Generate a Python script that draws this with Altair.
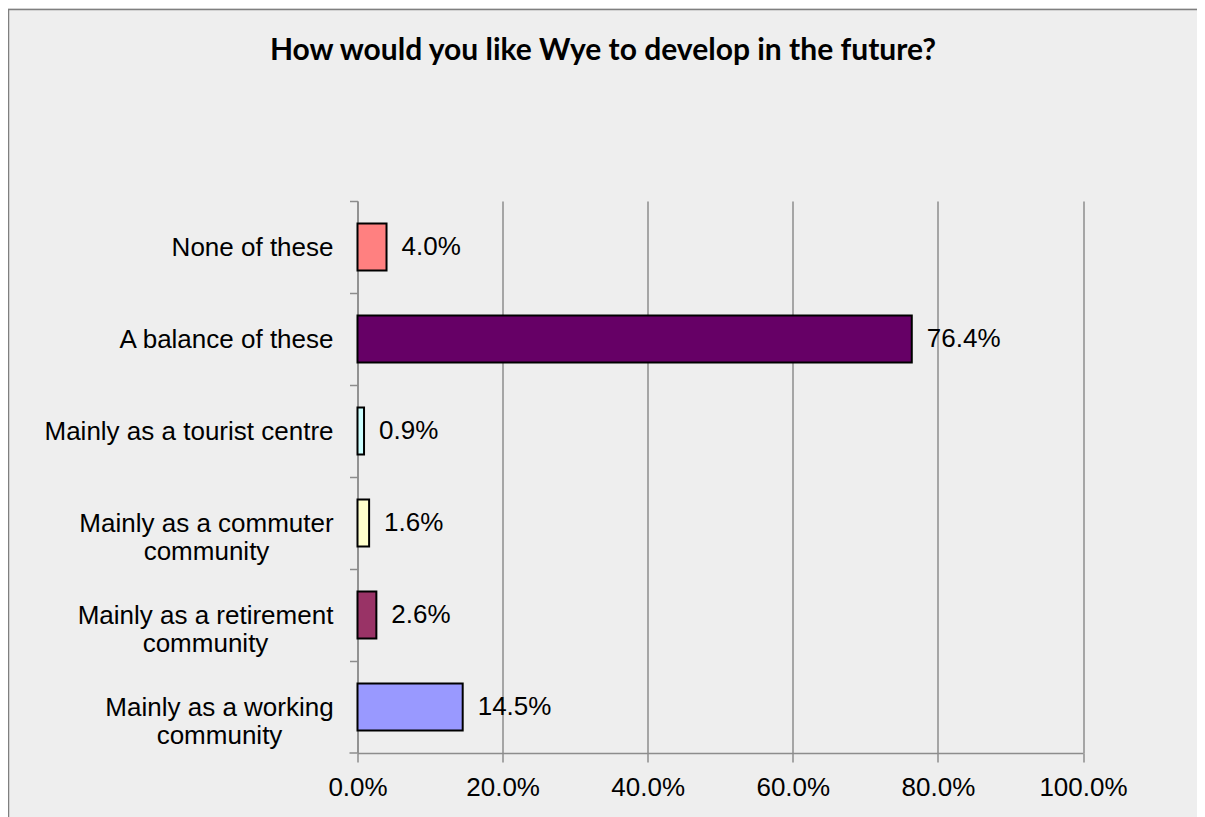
import altair as alt
import pandas as pd

categories = [
    "None of these",
    "A balance of these",
    "Mainly as a tourist centre",
    "Mainly as a commuter|community",
    "Mainly as a retirement|community",
    "Mainly as a working|community",
]
values = [0.040, 0.764, 0.009, 0.016, 0.026, 0.145]
colors = ["#FF8080", "#660066", "#CCFFFF", "#FFFFCC", "#993366", "#9999FF"]
x_ticks = [0.0, 0.2, 0.4, 0.6, 0.8, 1.0]
title_text = "How would you like Wye to develop in the future?"

df = pd.DataFrame({"cat": categories, "val": values})

FONT = "Liberation Sans"
W, H = 725.5, 552
PL, PT = 349.5, 193
PR = 1189 - PL - W
PB = 809 - PT - H
STEP = H / len(categories)

ysc = alt.Scale(domain=categories, paddingInner=0.49, paddingOuter=0.245)

y_axis = alt.Axis(
    title=None,
    labelExpr="split(datum.label, '|')",
    labelFont=FONT,
    labelFontSize=26,
    labelColor="#000000",
    labelLineHeight=28,
    labelBaseline="middle",
    labelLimit=0,
    labelAlign={"condition": {"test": "indexof(datum.value, '|') >= 0", "value": "center"}, "value": "right"},
    labelPadding={
        "condition": [
            {"test": "datum.value == 'Mainly as a commuter|community'", "value": 16.5 + 127},
            {"test": "datum.value == 'Mainly as a retirement|community'", "value": 16.5 + 128},
            {"test": "datum.value == 'Mainly as a working|community'", "value": 16.5 + 114},
        ],
        "value": 16.5,
    },
    labelOffset=STEP / 2,
    tickOffset=-STEP / 2,
    tickSize=8,
    tickColor="#8c8c8c",
    tickWidth=1.5,
    domainColor="#8c8c8c",
    domainWidth=1.5,
    grid=False,
)

x_axis = alt.Axis(
    title=None,
    values=x_ticks,
    format=".1%",
    labelFont=FONT,
    labelFontSize=26,
    labelColor="#000000",
    labelPadding=12,
    tickSize=9,
    tickColor="#8c8c8c",
    tickWidth=1.5,
    domainColor="#8c8c8c",
    domainWidth=1.5,
    grid=True,
    gridColor="#8c8c8c",
    gridWidth=1.5,
    labelFlush=False,
)

base = alt.Chart(df)

bars = base.mark_bar(stroke="#000000", strokeWidth=2).encode(
    y=alt.Y("cat:N", sort=categories, scale=ysc, axis=y_axis),
    x=alt.X("val:Q", scale=alt.Scale(domain=[0, 1], nice=False), axis=x_axis),
    color=alt.Color("cat:N", scale=alt.Scale(domain=categories, range=colors), legend=None),
)

labels = base.mark_text(
    align="left", baseline="middle", dx=15, font=FONT, fontSize=26, color="#000000"
).encode(
    y=alt.Y("cat:N", sort=categories, scale=ysc),
    x=alt.X("val:Q"),
    text=alt.Text("val:Q", format=".1%"),
)

title_df = pd.DataFrame({"t": [title_text]})
title = alt.Chart(title_df).mark_text(
    align="center", baseline="alphabetic", font="Lato", fontWeight="bold", fontSize=30, color="#000000"
).encode(
    text="t:N",
    x=alt.value(603 - 8 - PL),
    y=alt.value(52 - PT),
)

frame_df = pd.DataFrame({"f": [1]})
frame = alt.Chart(frame_df).mark_rect(
    fill="transparent", stroke="#7f7f7f", strokeWidth=1.5
).encode(
    x=alt.value(-PL + 0.5),
    x2=alt.value(W + PR + 20),
    y=alt.value(-PT + 1.5),
    y2=alt.value(H + PB + 20),
)

bottom_tick = alt.Chart(frame_df).mark_rule(color="#8c8c8c", strokeWidth=1.5).encode(
    x=alt.value(-8),
    x2=alt.value(0),
    y=alt.value(H),
)

chart = alt.layer(frame, bars, labels, bottom_tick, title).properties(
    width=W,
    height=H,
    padding={"left": PL, "top": PT, "right": PR, "bottom": PB},
    autosize=alt.AutoSizeParams(type="none"),
    background="#EEEEEE",
).configure_view(stroke=None)

chart.save("out.html", embed_options={"renderer": "svg", "actions": False})
